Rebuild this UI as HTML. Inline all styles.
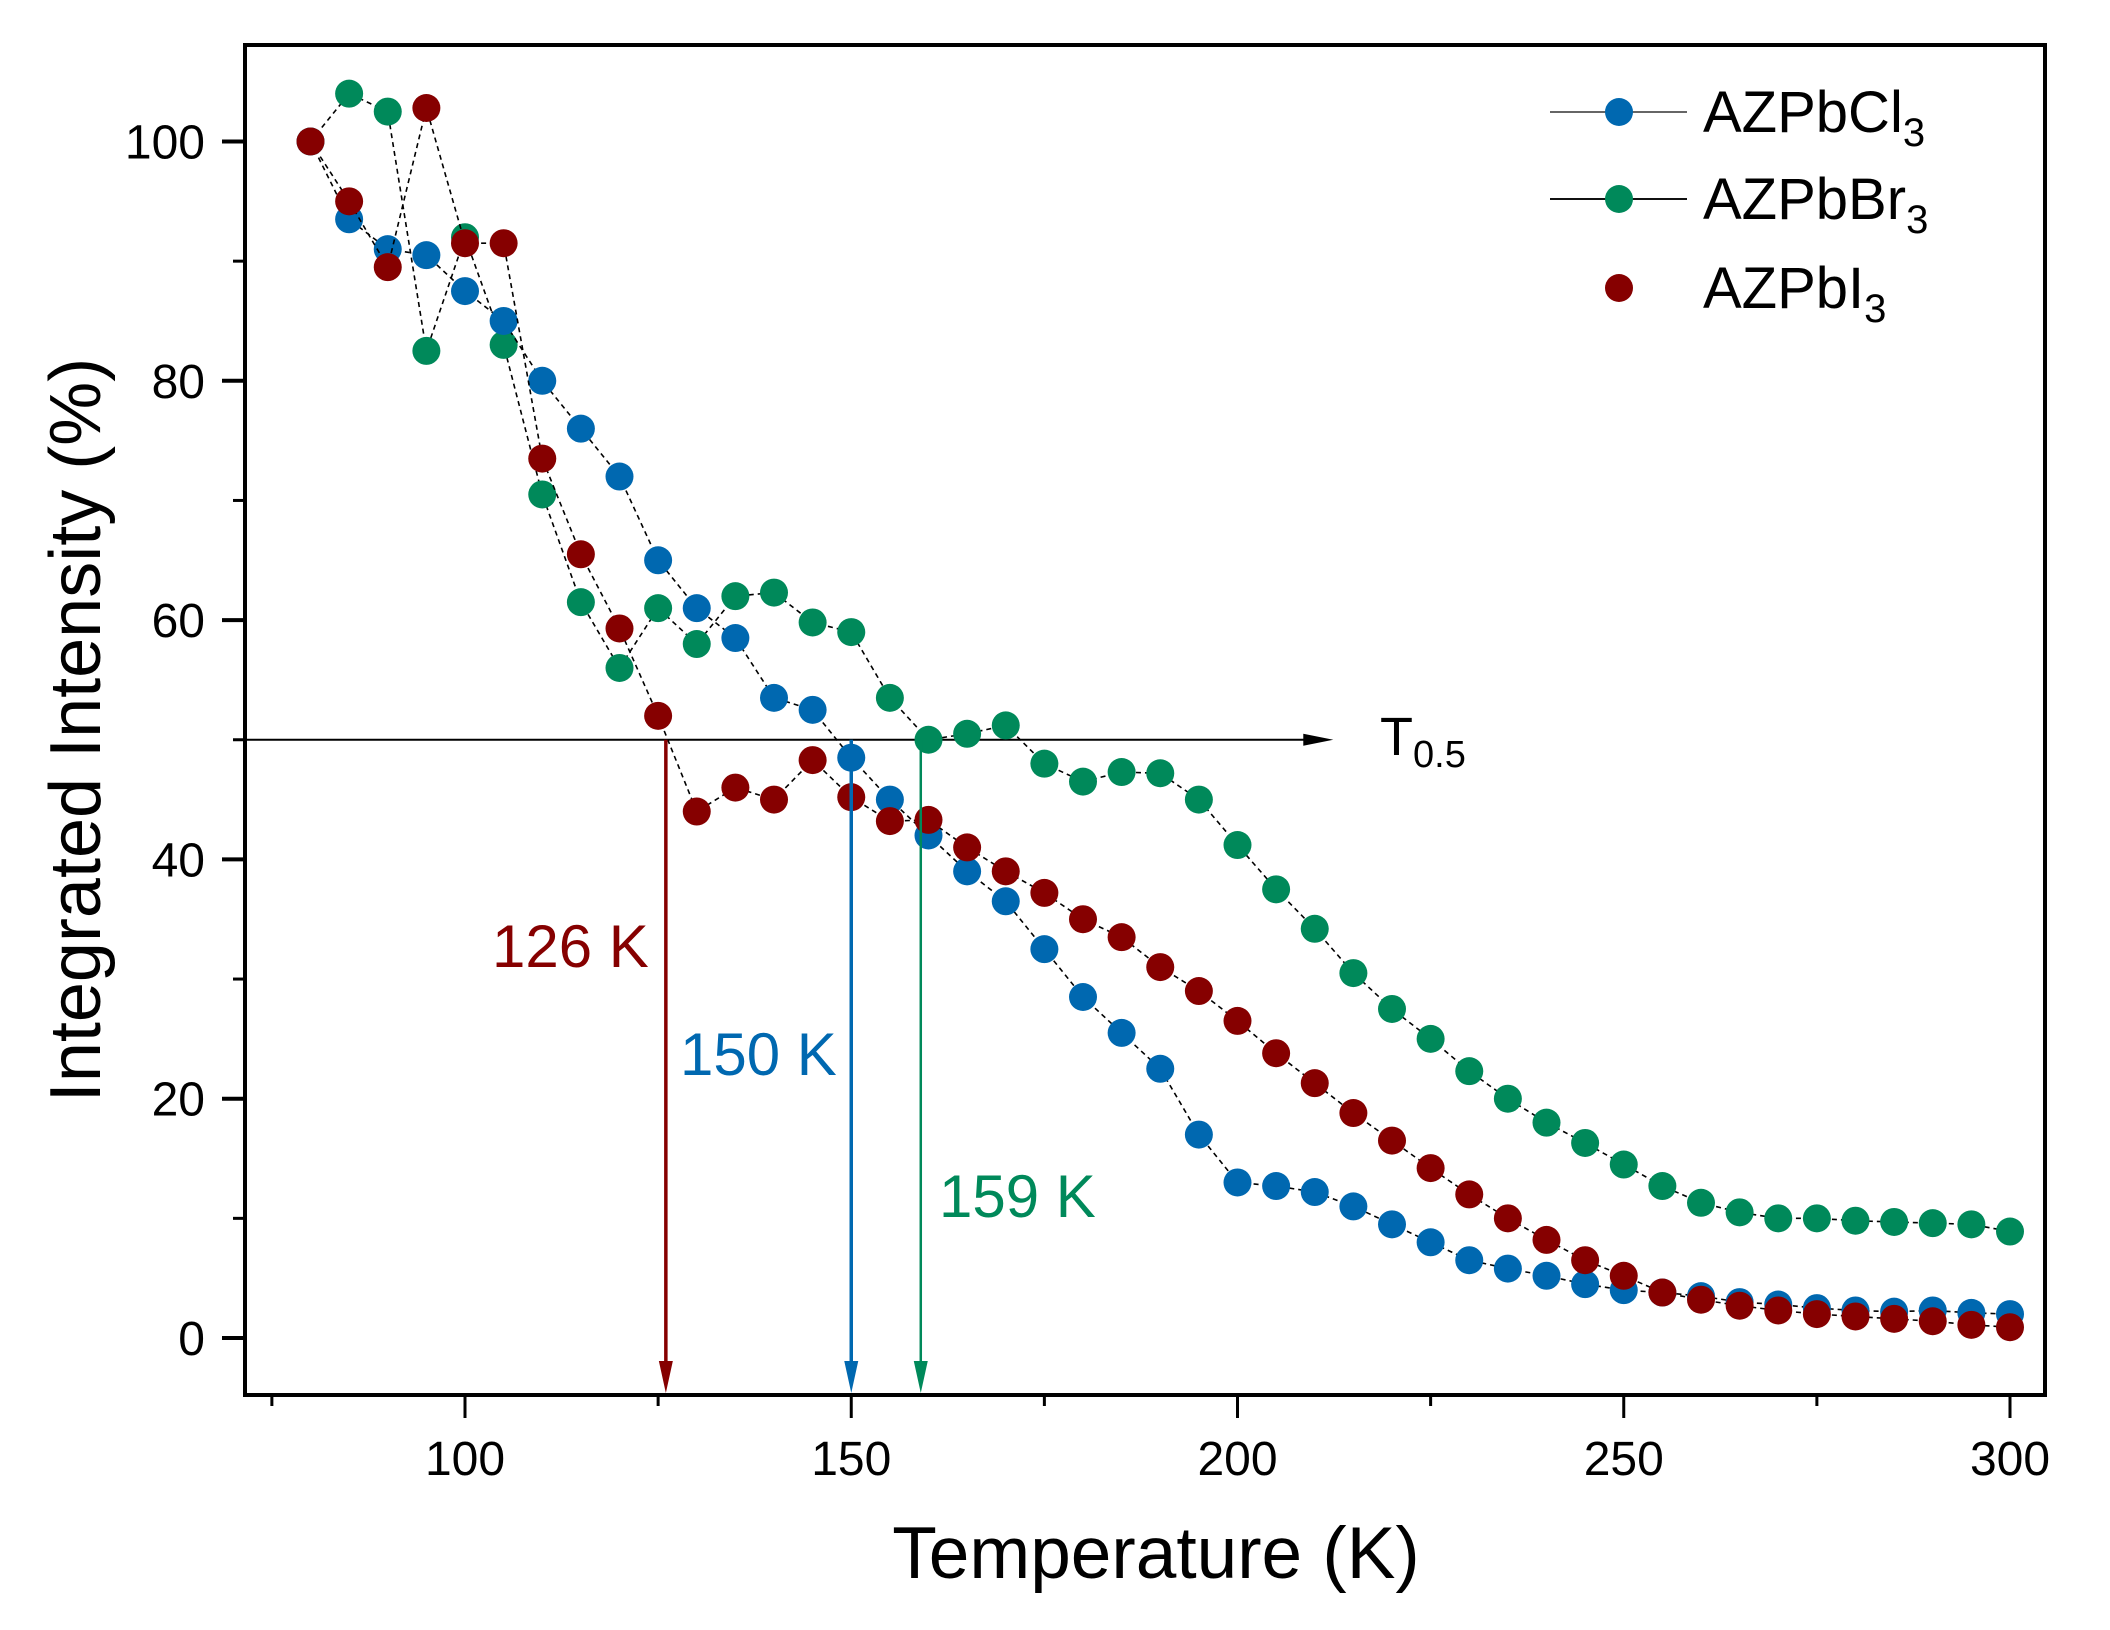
<!DOCTYPE html>
<html><head><meta charset="utf-8"><style>
html,body{margin:0;padding:0;background:#fff;}
svg{display:block;font-family:"Liberation Sans",sans-serif;}
</style></head><body>
<svg id="chart" width="2110" height="1630" viewBox="0 0 2110 1630" xmlns="http://www.w3.org/2000/svg">
<g id="plot"></g>
</svg>
<script>
const temps = [80,85,90,95,100,105,110,115,120,125,130,135,140,145,150,155,160,165,170,175,180,185,190,195,200,205,210,215,220,225,230,235,240,245,250,255,260,265,270,275,280,285,290,295,300];
const clValues = [100,93.5,91,90.5,87.5,85,80,76,72,65,61,58.5,53.5,52.5,48.5,45,42,39,36.5,32.5,28.5,25.5,22.5,17,13,12.7,12.2,11,9.5,8,6.5,5.8,5.2,4.5,4,3.8,3.5,3,2.8,2.5,2.3,2.2,2.3,2.1,2];
const brValues = [100,104,102.5,82.5,92,83,70.5,61.5,56,61,58,62,62.3,59.8,59,53.5,50,50.5,51.2,48,46.5,47.3,47.2,45,41.2,37.5,34.2,30.5,27.5,25,22.3,20,18,16.3,14.5,12.7,11.3,10.5,10,10,9.8,9.7,9.6,9.5,8.9];
const iValues = [100,95,89.5,102.8,91.5,91.5,73.5,65.5,59.3,52,44,46,45,48.3,45.2,43.2,43.3,41,39,37.2,35,33.5,31,29,26.5,23.8,21.3,18.8,16.5,14.2,12,10,8.2,6.5,5.2,3.8,3.2,2.7,2.3,2,1.8,1.6,1.4,1.1,0.9];
const xTicks = [100,150,200,250,300];
const xMinor = [75,125,175,225,275];
const yTicks = [0,20,40,60,80,100];
const yMinor = [10,30,50,70,90];
const t05 = [126,150,159];
const t05Labels = ["126 K","150 K","159 K"];
const t05End = 212.4;

const NS="http://www.w3.org/2000/svg";
const g=document.getElementById('plot');
const X0=465, XK=7.725, Y0=1338, YU=11.965;
const L=245,R=2045,T=45,B=1395;
function sx(v){return X0+(v-100)*XK;}
function sy(v){return Y0-v*YU;}
function mk(tag,attrs,parent){const e=document.createElementNS(NS,tag);for(const k in attrs)e.setAttribute(k,attrs[k]);(parent||g).appendChild(e);return e;}

// frame
let f=mk('rect',{x:L,y:T,width:R-L,height:B-T,fill:'none',stroke:'#000','stroke-width':4});



// ticks
yTicks.forEach(v=>{let t=mk('line',{x1:L-23,x2:L,y1:sy(v),y2:sy(v),stroke:'#000','stroke-width':4});


let tx=mk('text',{x:L-40,y:sy(v)+17,'font-size':48,'text-anchor':'end'});tx.textContent=v;

});
yMinor.forEach(v=>{let t=mk('line',{x1:L-12,x2:L,y1:sy(v),y2:sy(v),stroke:'#000','stroke-width':3});

});
xTicks.forEach(v=>{let t=mk('line',{x1:sx(v),x2:sx(v),y1:B,y2:B+23,stroke:'#000','stroke-width':3});


let tx=mk('text',{x:sx(v),y:B+80,'font-size':48,'text-anchor':'middle'});tx.textContent=v;

});
xMinor.forEach(v=>{let t=mk('line',{x1:sx(v),x2:sx(v),y1:B,y2:B+11,stroke:'#000','stroke-width':3});

});

// axis titles
let xt=mk('text',{x:1156,y:1578,'font-size':73,'text-anchor':'middle'});xt.textContent='Temperature (K)';


let yt=mk('text',{x:0,y:0,'font-size':72,'text-anchor':'middle',transform:'translate(100,730) rotate(-90)'});yt.textContent='Integrated Intensity (%)';



// T0.5 line
const hx=sx(t05End), hy=sy(50);
let hl=mk('line',{x1:L,x2:hx-20,y1:hy,y2:hy,stroke:'#000','stroke-width':2});


let hh=mk('polygon',{points:`${hx},${hy} ${hx-30},${hy-6} ${hx-30},${hy+6}`,fill:'#000'});


let tl=mk('text',{x:1380,y:hy+15,'font-size':54});tl.innerHTML='T<tspan font-size="38" dy="12">0.5</tspan>';



// series
function series(vals,color,name){
  let p=mk('polyline',{points:temps.map((t,i)=>sx(t)+','+sy(vals[i])).join(' '),fill:'none',stroke:'#000','stroke-width':1.6,'stroke-dasharray':'5,4'});
  
  
  temps.forEach((t,i)=>{let c=mk('circle',{cx:sx(t),cy:sy(vals[i]),r:14,fill:color});
  
  });
}
series(brValues,'#00895a','br');
series(clValues,'#0068b0','cl');
series(iValues,'#860000','i');

// vertical arrows
const acol=['#860000','#0068b0','#00895a'],aw=[3.5,3.5,2.5];
const lblPos=[[492,967],[680,1075],[939,1217]];
t05.forEach((v,i)=>{const x=sx(v);
let a=mk('line',{x1:x,x2:x,y1:hy,y2:B-20,stroke:acol[i],'stroke-width':aw[i]});


let ah=mk('polygon',{points:`${x-7},${B-34} ${x+7},${B-34} ${x},${B-2}`,fill:acol[i]});


let tx=mk('text',{x:lblPos[i][0],y:lblPos[i][1],'font-size':60,fill:acol[i]});tx.textContent=t05Labels[i];

});

// legend
const leg=[['AZPbCl','#0068b0',112,true,'#666'],['AZPbBr','#00895a',199,true,'#111'],['AZPbI','#860000',288,false,'']];
leg.forEach(l=>{
  if(l[3]){let a=mk('line',{x1:1550,x2:1687,y1:l[2],y2:l[2],stroke:l[4],'stroke-width':2});
  
  }
  let c=mk('circle',{cx:1619,cy:l[2],r:14,fill:l[1]});
  
  
  let tx=mk('text',{x:1703,y:l[2]+20,'font-size':58});tx.innerHTML=l[0]+'<tspan font-size="40" dy="14">3</tspan>';
  
  
});
</script>
</body></html>
